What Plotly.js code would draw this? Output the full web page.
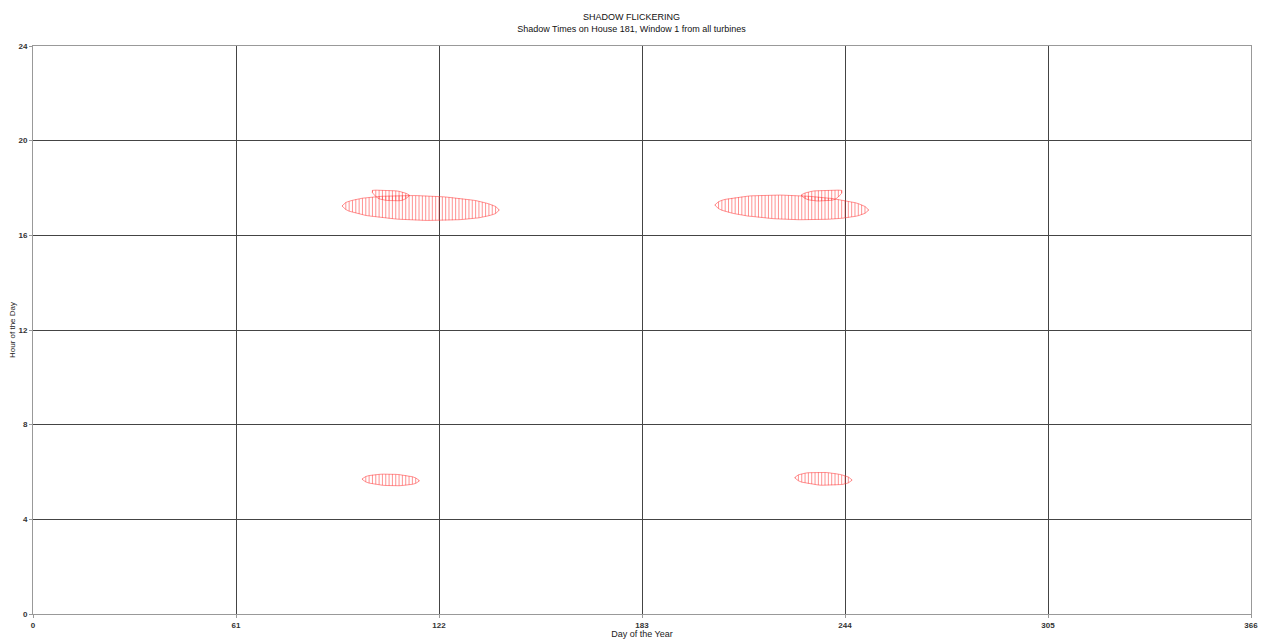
<!DOCTYPE html>
<html><head><meta charset="utf-8">
<script src="https://cdn.plot.ly/plotly-3.0.1.min.js"></script>
<style>html,body{margin:0;padding:0;background:#fff}#chart{width:1263px;height:639px}</style>
</head><body><div id="chart"></div>
<script>
// Shadow periods: for each day, start hour (shadow begins) and end hour (shadow ends)
const eveningSpringDays  = [93,94,95,96,97,98,99,100,101,102,103,104,105,106,107,108,109,110,111,112,113,114,115,116,117,118,119,120,121,122,123,124,125,126,127,128,129,130,131,132,133,134,135,136,137,138,139,140];
const eveningSpringStart = [17.22,17.09,17.02,16.98,16.94,16.90,16.87,16.84,16.82,16.80,16.78,16.76,16.74,16.73,16.71,16.70,16.69,16.68,16.67,16.66,16.65,16.65,16.64,16.64,16.63,16.63,16.63,16.63,16.63,16.63,16.63,16.63,16.64,16.64,16.65,16.66,16.67,16.68,16.69,16.71,16.73,16.74,16.77,16.79,16.83,16.87,16.92,17.05];
const eveningSpringEnd   = [17.26,17.39,17.44,17.48,17.52,17.54,17.57,17.58,17.60,17.62,17.63,17.64,17.65,17.66,17.67,17.67,17.68,17.68,17.68,17.68,17.68,17.68,17.68,17.68,17.67,17.67,17.66,17.66,17.65,17.64,17.63,17.62,17.61,17.60,17.58,17.57,17.55,17.53,17.51,17.49,17.47,17.44,17.41,17.37,17.33,17.29,17.22,17.09];

const lateSpringDays  = [102,103,104,105,106,107,108,109,110,111,112,113];
const lateSpringStart = [17.80,17.64,17.54,17.50,17.48,17.47,17.46,17.46,17.46,17.48,17.55,17.66];
const lateSpringEnd   = [17.90,17.91,17.91,17.91,17.90,17.90,17.89,17.88,17.86,17.83,17.78,17.71];

const eveningAutumnDays  = [205,206,207,208,209,210,211,212,213,214,215,216,217,218,219,220,221,222,223,224,225,226,227,228,229,230,231,232,233,234,235,236,237,238,239,240,241,242,243,244,245,246,247,248,249,250,251];
const eveningAutumnStart = [17.26,17.13,17.06,17.01,16.97,16.94,16.91,16.88,16.86,16.83,16.81,16.80,16.78,16.76,16.75,16.73,16.72,16.71,16.70,16.69,16.68,16.68,16.67,16.67,16.66,16.66,16.66,16.66,16.65,16.66,16.66,16.66,16.67,16.67,16.68,16.69,16.69,16.71,16.72,16.74,16.75,16.78,16.80,16.83,16.87,16.93,17.05];
const eveningAutumnEnd   = [17.30,17.42,17.48,17.52,17.55,17.58,17.60,17.61,17.63,17.64,17.66,17.67,17.67,17.68,17.69,17.69,17.69,17.69,17.70,17.70,17.70,17.69,17.69,17.69,17.68,17.67,17.67,17.66,17.65,17.64,17.63,17.62,17.60,17.59,17.57,17.56,17.54,17.52,17.49,17.47,17.44,17.41,17.38,17.34,17.29,17.22,17.09];

const lateAutumnDays  = [231,232,233,234,235,236,237,238,239,240,241,242,243];
const lateAutumnStart = [17.66,17.56,17.50,17.47,17.46,17.45,17.45,17.45,17.46,17.48,17.52,17.62,17.78];
const lateAutumnEnd   = [17.72,17.79,17.83,17.86,17.88,17.89,17.90,17.90,17.91,17.91,17.91,17.91,17.90];

const morningSpringDays  = [99,100,101,102,103,104,105,106,107,108,109,110,111,112,113,114,115,116];
const morningSpringStart = [5.68,5.58,5.53,5.50,5.48,5.46,5.44,5.43,5.42,5.42,5.42,5.42,5.43,5.44,5.46,5.48,5.52,5.61];
const morningSpringEnd   = [5.72,5.81,5.85,5.88,5.89,5.90,5.91,5.91,5.91,5.91,5.90,5.89,5.87,5.86,5.83,5.80,5.75,5.65];

const morningAutumnDays  = [229,230,231,232,233,234,235,236,237,238,239,240,241,242,243,244,245,246];
const morningAutumnStart = [5.74,5.63,5.57,5.54,5.51,5.49,5.47,5.45,5.44,5.44,5.44,5.44,5.44,5.46,5.47,5.50,5.54,5.64];
const morningAutumnEnd   = [5.78,5.88,5.92,5.95,5.97,5.98,5.98,5.99,5.98,5.98,5.97,5.95,5.94,5.91,5.88,5.85,5.79,5.68];

const xTicks = [0,61,122,183,244,305,366];
const yTicks = [0,4,8,12,16,20,24];

const periods = [
  [eveningSpringDays, eveningSpringStart, eveningSpringEnd],
  [lateSpringDays, lateSpringStart, lateSpringEnd],
  [eveningAutumnDays, eveningAutumnStart, eveningAutumnEnd],
  [lateAutumnDays, lateAutumnStart, lateAutumnEnd],
  [morningSpringDays, morningSpringStart, morningSpringEnd],
  [morningAutumnDays, morningAutumnStart, morningAutumnEnd]
];

const traces = [];
periods.forEach(([d, s, e]) => {
  const hx = [], hy = [];
  d.forEach((day, i) => { hx.push(day, day, null); hy.push(s[i], e[i], null); });
  traces.push({x: hx, y: hy, mode: 'lines', type: 'scatter', hoverinfo: 'skip',
    line: {color: 'rgba(255,40,40,0.5)', width: 1}, showlegend: false});
  const ox = d.concat(d.slice().reverse(), [d[0]]);
  const oy = s.concat(e.slice().reverse(), [s[0]]);
  traces.push({x: ox, y: oy, mode: 'lines', type: 'scatter', hoverinfo: 'skip',
    line: {color: 'rgba(255,60,60,0.55)', width: 1}, showlegend: false});
});

const tickFont = {family: 'Liberation Sans, Arial, sans-serif', size: 8, color: '#333', weight: 'bold'};
const layout = {
  width: 1263, height: 639,
  margin: {l: 33, r: 12, t: 46, b: 25},
  paper_bgcolor: '#fff', plot_bgcolor: '#fff',
  title: {text: 'SHADOW FLICKERING<br>Shadow Times on House 181, Window 1 from all turbines',
    font: {family: 'Liberation Sans, Arial, sans-serif', size: 9, color: '#111'},
    x: 0.5, xanchor: 'center', yref: 'container', y: 0.969, yanchor: 'top'},
  xaxis: {range: [0, 366], tickvals: xTicks, ticktext: xTicks.map(String),
    showgrid: true, gridcolor: '#444', gridwidth: 1, zeroline: false,
    showline: true, linecolor: '#999', linewidth: 1, mirror: true,
    ticks: 'outside', ticklen: 3, tickcolor: '#999', tickfont: tickFont,
    title: {text: 'Day of the Year', standoff: 2, font: {family: 'Liberation Sans, Arial, sans-serif', size: 9, color: '#222'}}},
  yaxis: {range: [0, 24], tickvals: yTicks, ticktext: yTicks.map(String),
    showgrid: true, gridcolor: '#444', gridwidth: 1, zeroline: false,
    showline: true, linecolor: '#999', linewidth: 1, mirror: true,
    ticks: 'outside', ticklen: 3, tickcolor: '#999', tickfont: tickFont,
    title: {text: 'Hour of the Day', standoff: 1, font: {family: 'Liberation Sans, Arial, sans-serif', size: 8, color: '#222'}}}
};
Plotly.newPlot('chart', traces, layout, {displayModeBar: false, staticPlot: true});
</script></body></html>
